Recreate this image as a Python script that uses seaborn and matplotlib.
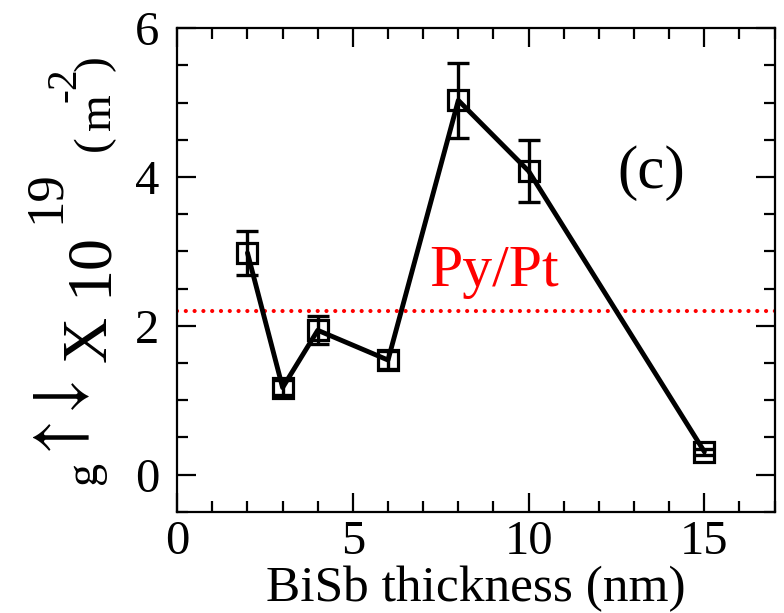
import matplotlib
matplotlib.use("Agg")
import matplotlib.pyplot as plt
import seaborn as sns
import pandas as pd
from matplotlib.ticker import MultipleLocator
from matplotlib.textpath import TextPath
from matplotlib.font_manager import FontProperties

thickness = [2, 3, 4, 6, 8, 10, 15]
g_values = [2.98, 1.17, 1.94, 1.54, 5.03, 4.08, 0.31]
g_errors = [0.30, 0.10, 0.19, 0.12, 0.50, 0.42, 0.04]
pypt_ref = 2.2
x_ticks = [0, 5, 10, 15]
y_ticks = [0, 2, 4, 6]

sns.set_theme(style="ticks")
FAM = ["Liberation Serif", "DejaVu Serif"]
plt.rcParams["font.family"] = FAM
plt.rcParams["mathtext.fontset"] = "stix"
plt.rcParams["text.color"] = "black"
plt.rcParams["axes.labelcolor"] = "black"
plt.rcParams["xtick.color"] = "black"
plt.rcParams["ytick.color"] = "black"

W, H, DPI = 7.84, 6.13, 100
df = pd.DataFrame({"t": thickness, "g": g_values, "err": g_errors})

fig = plt.figure(figsize=(W, H), dpi=DPI)
ax = fig.add_axes([0.226, 0.165, 0.762, 0.789])

ax.axhline(pypt_ref, color="red", lw=3.0, linestyle=(0, (0.01, 2.1)),
           dash_capstyle="round", zorder=1)

ax.errorbar(df["t"], df["g"], yerr=df["err"], fmt="none", ecolor="black",
            elinewidth=2.4, capsize=8, capthick=2.4, zorder=2)
sns.lineplot(data=df, x="t", y="g", ax=ax, color="black", lw=3.5,
             marker="s", markersize=14, markerfacecolor="none",
             markeredgecolor="black", markeredgewidth=2.3, zorder=3)

ax.set_xlim(0, 17)
ax.set_ylim(-0.5, 6)
ax.set_xticks(x_ticks)
ax.set_yticks(y_ticks)
ax.xaxis.set_minor_locator(MultipleLocator(1))
ax.yaxis.set_minor_locator(MultipleLocator(0.5))
ax.tick_params(which="both", direction="in", top=True, right=True,
               width=1.6, colors="black", labelsize=35)
ax.tick_params(axis="x", pad=6)
ax.tick_params(axis="y", pad=13)
ax.tick_params(which="major", length=14)
ax.tick_params(which="minor", length=8)
for s in ax.spines.values():
    s.set_linewidth(1.6)
    s.set_color("black")

ax.set_xlabel("BiSb thickness (nm)", fontsize=37, labelpad=1)
ax.set_ylabel("")

ax.text(13.5, 4.05, "(c)", fontsize=44, ha="center", va="center")
ax.text(9.03, 2.53, "Py/Pt", fontsize=43, color="red", ha="center", va="baseline")


def place_rot(s, size, cx, cy, fit_height=None):
    """Place text rotated by 90 deg so its ink centre lands at image pixel (cx, cy)."""
    k = DPI / 72.0
    fp = FontProperties(family=FAM, size=size)
    tp = TextPath((0, 0), s, size=size, prop=fp)
    ext = tp.get_extents()
    if fit_height is not None:
        size = size * fit_height / ((ext.y1 - ext.y0) * k)
        fp = FontProperties(family=FAM, size=size)
        tp = TextPath((0, 0), s, size=size, prop=fp)
        ext = tp.get_extents()
    mx = (ext.x0 + ext.x1) / 2 * k
    my = (ext.y0 + ext.y1) / 2 * k
    ax_img = cx + my
    ay_img = cy + mx
    fig.text(ax_img / (W * DPI), 1 - ay_img / (H * DPI), s, fontsize=size,
             rotation=90, rotation_mode="anchor", ha="left", va="baseline",
             fontproperties=fp)


# y-axis label pieces: g (up)(down) X 10^19 (m^-2)
place_rot("g", 33, 89, 472)
place_rot(r"$\uparrow$", 40, 62, 437, fit_height=56)
place_rot(r"$\downarrow$", 40, 62, 396, fit_height=56)
place_rot("X", 46, 85, 339)
place_rot("10", 46, 85, 262)
place_rot("19", 38, 42, 195)
place_rot("(", 34, 94, 143)
place_rot("m", 34, 99, 112)
place_rot("-2", 30, 62, 85)
place_rot(")", 34, 94, 63)

fig.savefig("out.png", dpi=DPI)
